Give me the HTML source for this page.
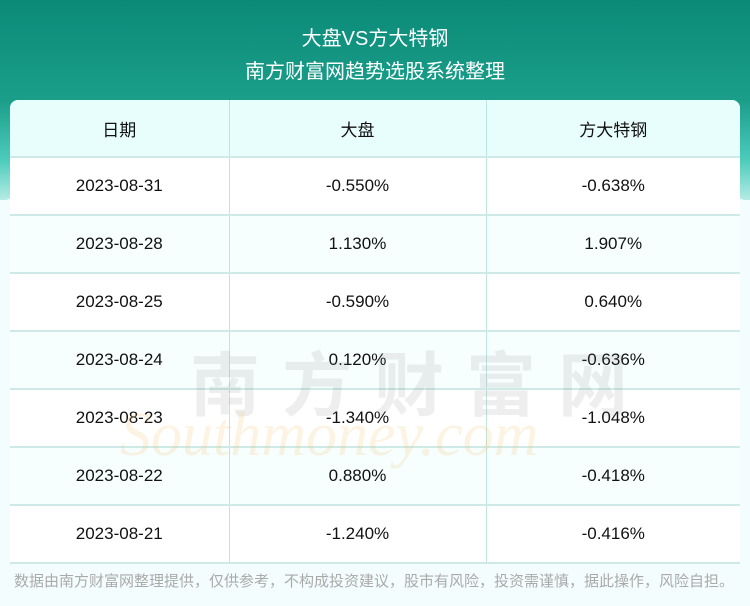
<!DOCTYPE html>
<html><head><meta charset="utf-8"><style>
*{margin:0;padding:0;box-sizing:border-box}
body{width:750px;height:606px;overflow:hidden;background:#f3fdfd;font-family:"Liberation Sans","Noto Sans CJK SC",sans-serif;position:relative}
.top{position:absolute;left:0;top:0;width:750px;height:200px;background:linear-gradient(180deg,#0b8a78 0%,#1a9e8a 50%,#4ccbbb 80%,#b5ece4 100%)}
.curve{position:absolute;left:-120px;top:150px;width:990px;height:300px;border-radius:50%;background:#f3fdfd}
.t1{position:absolute;top:22px;width:750px;text-align:center;color:#fff;font-size:20px}
.t2{position:absolute;top:55px;width:750px;text-align:center;color:#fff;font-size:20px}
table{position:absolute;left:10px;top:100px;width:730px;border-collapse:collapse;background:#fff;border-radius:8px 8px 0 0;overflow:hidden}
td{height:58px;text-align:center;font-size:17px;color:#111;border-left:1px solid #bfe5e0;border-bottom:2px solid #cdeae6}
td:first-child{border-left:none}
tr:first-child td{background:#e8fefc;height:57px}
tr:nth-child(odd):not(:first-child) td{background:#f7fefe}
.wm{position:absolute;left:190px;top:330px;font-size:70px;color:rgba(120,120,120,0.13);letter-spacing:22px;font-weight:bold}
.wm2{position:absolute;left:120px;top:400px;font-size:62px;color:rgba(240,190,100,0.18);font-style:italic;font-family:"Liberation Serif",serif}
.foot{position:absolute;top:570px;left:14px;font-size:15px;color:#aaa}
</style></head><body>
<div class="top"></div><div class="curve"></div>
<div class="t1">大盘VS方大特钢</div>
<div class="t2">南方财富网趋势选股系统整理</div>
<table>
<colgroup><col style="width:219px"><col style="width:257px"><col style="width:254px"></colgroup>
<tr><td>日期</td><td>大盘</td><td>方大特钢</td></tr>
<tr><td>2023-08-31</td><td>-0.550%</td><td>-0.638%</td></tr>
<tr><td>2023-08-28</td><td>1.130%</td><td>1.907%</td></tr>
<tr><td>2023-08-25</td><td>-0.590%</td><td>0.640%</td></tr>
<tr><td>2023-08-24</td><td>0.120%</td><td>-0.636%</td></tr>
<tr><td>2023-08-23</td><td>-1.340%</td><td>-1.048%</td></tr>
<tr><td>2023-08-22</td><td>0.880%</td><td>-0.418%</td></tr>
<tr><td>2023-08-21</td><td>-1.240%</td><td>-0.416%</td></tr>
</table>
<div class="wm">南方财富网</div>
<div class="wm2">Southmoney.com</div>
<div class="foot">数据由南方财富网整理提供，仅供参考，不构成投资建议，股市有风险，投资需谨慎，据此操作，风险自担。</div>
</body></html>
